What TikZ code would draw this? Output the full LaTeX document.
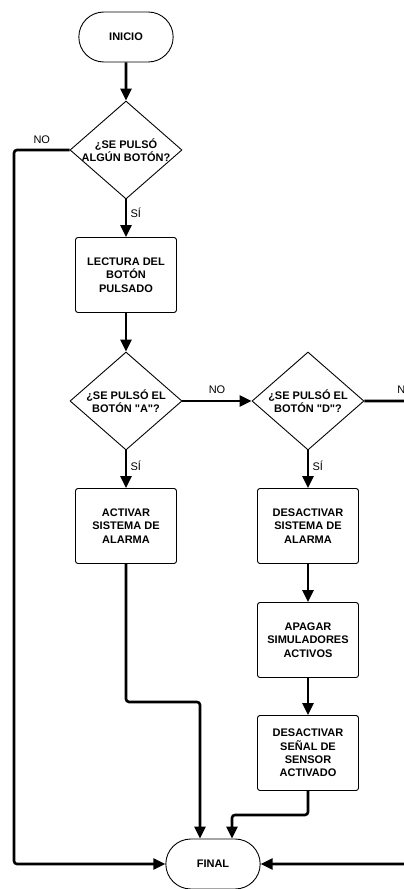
\documentclass[tikz,border=0pt]{standalone}
\usepackage{fontspec}
\setmainfont{Liberation Sans}
\usetikzlibrary{shapes.geometric,shapes.misc,arrows.meta}

\begin{document}
\begin{tikzpicture}[->,>={Triangle[length=12pt,width=11pt]},node distance=125pt,line width=2.6pt,
  term/.style={rounded rectangle,draw,line width=0.9pt,minimum width=101pt,minimum height=50pt,
    font={\bfseries\fontsize{11pt}{13.3pt}\selectfont}},
  decision/.style={diamond,draw,line width=0.9pt,aspect=1.3,inner sep=-3pt,minimum width=112pt,
    minimum height=98pt,align=center,font={\bfseries\fontsize{11pt}{13.3pt}\selectfont}},
  proc/.style={rectangle,draw,rounded corners=2.5pt,line width=0.9pt,minimum width=101pt,
    minimum height=75pt,align=center,font={\bfseries\fontsize{11pt}{13.3pt}\selectfont}},
  lbl/.style={font={\fontsize{11pt}{13.3pt}\selectfont}}]

\useasboundingbox (-126pt,37pt) rectangle (278pt,-852pt);

\node[term](ini){INICIO};
\node[decision](d1)[below of=ini,yshift=12pt]{¿SE PULSÓ\\ALGÚN BOTÓN?};
\node[proc](lect)[below of=d1]{LECTURA DEL\\BOTÓN\\PULSADO};
\node[decision](d2)[below of=lect,yshift=-1pt]{¿SE PULSÓ EL\\BOTÓN \textquotedbl A\textquotedbl ?};
\node[proc](act)[below of=d2]{ACTIVAR\\SISTEMA DE\\ALARMA};
\node[decision](d3)[right of=d2,xshift=57pt]{¿SE PULSÓ EL\\BOTÓN \textquotedbl D\textquotedbl ?};
\node[proc](des)[below of=d3]{DESACTIVAR\\SISTEMA DE\\ALARMA};
\node[proc](apa)[below of=des,yshift=11pt]{APAGAR\\SIMULADORES\\ACTIVOS};
\node[proc](sen)[below of=apa,yshift=12pt]{DESACTIVAR\\SEÑAL DE\\SENSOR\\ACTIVADO};
\node[term](fin)[below of=sen,yshift=14pt,xshift=-95pt]{FINAL};

\coordinate[left of=d1,xshift=13pt](nol);
\coordinate[right of=d3,xshift=14pt](nor);

\path(ini)edge(d1)
     (d1)edge node[lbl,right,pos=0.35]{SÍ}(lect)
     (lect)edge(d2)
     (d2)edge node[lbl,right,pos=0.4]{SÍ}(act)
     (d2)edge node[lbl,above=3pt]{NO}(d3)
     (d3)edge node[lbl,right,pos=0.4]{SÍ}(des)
     (des)edge(apa)
     (apa)edge(sen);

\draw[rounded corners=3pt](d1.west)--node[lbl,above=2pt]{NO}(nol)|-(fin.west);
\draw[rounded corners=3pt](d3.east)--node[lbl,above=3pt]{NO}(nor)|-(fin.east);
\draw[rounded corners=3pt](act.south)--++(0,-138pt)-|([xshift=-13pt]fin.north);
\draw[rounded corners=3pt](sen.south)--++(0,-24pt)-|([xshift=19pt]fin.north);

\end{tikzpicture}
\end{document}
